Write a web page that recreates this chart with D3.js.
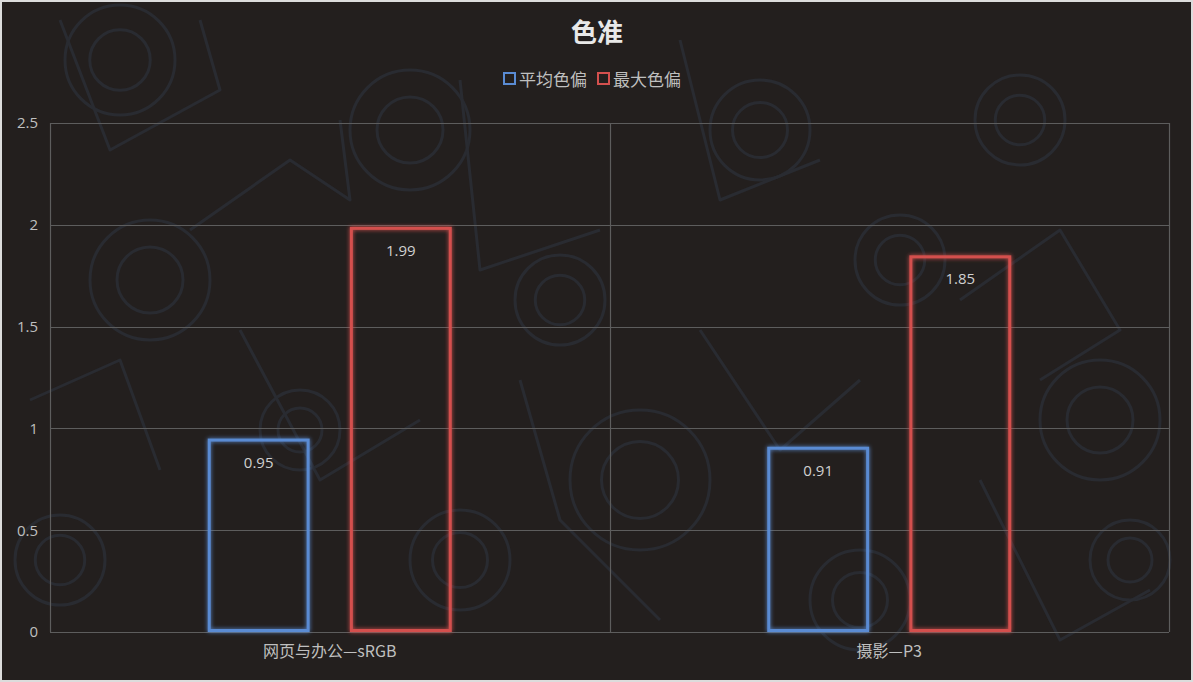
<!DOCTYPE html>
<html><head><meta charset="utf-8">
<script src="https://cdn.jsdelivr.net/npm/d3@7"></script>
<style>
html,body{margin:0;padding:0;background:#e6e6e6;}
svg{display:block;}
</style></head>
<body>
<script>
const categories = ["网页与办公—sRGB", "摄影—P3"];
const seriesNames = ["平均色偏", "最大色偏"];
const avgDelta = [0.95, 0.91];
const maxDelta = [1.99, 1.85];
const yTicks = [0, 0.5, 1, 1.5, 2, 2.5];
const seriesColors = ["#5a8bd3", "#d4504e"];

const W = 1193, H = 682;
const svg = d3.select("body").append("svg").attr("width", W).attr("height", H);

const defs = svg.append("defs");
seriesColors.forEach((c, i) => {
  const f = defs.append("filter").attr("id", "glow" + i).attr("x", "-20%").attr("y", "-20%").attr("width", "140%").attr("height", "140%");
  f.append("feGaussianBlur").attr("in", "SourceGraphic").attr("stdDeviation", 2).attr("result", "b");
  const m = f.append("feMerge");
  m.append("feMergeNode").attr("in", "b");
  m.append("feMergeNode").attr("in", "SourceGraphic");
});

// frame and background
svg.append("rect").attr("x", 0).attr("y", 0).attr("width", W).attr("height", H).attr("fill", "#dcdcdc");
svg.append("rect").attr("x", 2).attr("y", 2).attr("width", W - 4).attr("height", H - 4).attr("fill", "#231f1e");

// faint decorative background pattern
const deco = svg.append("g").attr("fill", "none").attr("stroke", "#292b31").attr("stroke-width", 3);
const circ = [[120,60,55],[410,130,60],[150,280,60],[900,260,45],[640,480,70],[1100,420,60],[460,560,50],[1020,120,45],[300,430,40],[760,130,50],[1130,560,40],[60,560,45],[560,300,45],[860,600,50]];
circ.forEach(c => { deco.append("circle").attr("cx", c[0]).attr("cy", c[1]).attr("r", c[2]); deco.append("circle").attr("cx", c[0]).attr("cy", c[1]).attr("r", c[2]*0.55); });
const polys = ["M60,20 L110,150 L220,90 L200,20","M190,230 L290,160 L350,200 L340,120","M460,80 L480,270 L600,230","M680,40 L720,200 L820,160","M960,300 L1060,230 L1120,330 L1040,380","M240,330 L320,480 L420,420","M700,330 L780,450 L860,380","M30,400 L120,360 L160,470","M980,480 L1060,640 L1150,590","M520,380 L560,520 L660,620"];
polys.forEach(p => deco.append("path").attr("d", p).attr("stroke-linejoin", "round"));

const plot = {l: 50, r: 1169, t: 123, b: 632};
const x0 = d3.scaleBand().domain(categories).range([plot.l, plot.r]).paddingInner(0).paddingOuter(0);
const x1 = d3.scaleBand().domain(seriesNames).range([0, x0.bandwidth()]).paddingInner(0.283).paddingOuter(1.11);
const y = d3.scaleLinear().domain([0, 2.5]).range([plot.b, plot.t]);

const gridColor = "#5d5d5d";
svg.append("g").selectAll("line").data(yTicks).join("line")
  .attr("x1", plot.l).attr("x2", plot.r)
  .attr("y1", d => Math.round(y(d)) + 0.5).attr("y2", d => Math.round(y(d)) + 0.5)
  .attr("stroke", gridColor).attr("stroke-width", 1.2);
const divs = [plot.l, ...categories.map(c => x0(c) + x0.bandwidth())];
svg.append("g").selectAll("line").data(divs).join("line")
  .attr("x1", d => Math.round(d) + 0.5).attr("x2", d => Math.round(d) + 0.5)
  .attr("y1", plot.t).attr("y2", plot.b)
  .attr("stroke", gridColor).attr("stroke-width", 1.2);

const yAxis = d3.axisLeft(y).tickValues(yTicks).tickSize(0).tickPadding(12).tickFormat(d => String(d));
const ya = svg.append("g").attr("transform", `translate(${plot.l},0)`).call(yAxis);
ya.select(".domain").remove();
ya.selectAll("text").attr("fill", "#bfbfbf").attr("font-size", 15).attr("font-family", "'Open Sans', 'Noto Sans', sans-serif");

const xAxis = d3.axisBottom(x0).tickSize(0).tickPadding(14);
const xa = svg.append("g").attr("transform", `translate(0,${plot.b})`).call(xAxis);
xa.select(".domain").remove();
xa.selectAll("text").attr("fill", "#bfbfbf").attr("font-size", 16).attr("font-family", "'Noto Sans CJK SC', sans-serif");

const data = categories.map((c, i) => ({cat: c, vals: [avgDelta[i], maxDelta[i]]}));
const sw = 3;
const groups = svg.append("g").selectAll("g").data(data).join("g").attr("transform", d => `translate(${x0(d.cat)},0)`);
groups.selectAll("rect").data(d => d.vals.map((v, j) => ({v, j}))).join("rect")
  .attr("x", d => x1(seriesNames[d.j]) + sw / 2)
  .attr("y", d => y(d.v) + sw / 2)
  .attr("width", x1.bandwidth() - sw)
  .attr("height", d => y(0) - y(d.v) - sw)
  .attr("fill", "none")
  .attr("stroke", d => seriesColors[d.j])
  .attr("stroke-width", sw)
  .attr("filter", d => `url(#glow${d.j})`);
groups.selectAll("text").data(d => d.vals.map((v, j) => ({v, j}))).join("text")
  .attr("x", d => x1(seriesNames[d.j]) + x1.bandwidth() / 2)
  .attr("y", d => y(d.v) + 29)
  .attr("text-anchor", "middle")
  .attr("fill", "#d0d0d0").attr("font-size", 15)
  .attr("font-family", "'Open Sans', 'Noto Sans', sans-serif")
  .text(d => d.v.toFixed(2));

svg.append("text").attr("x", W / 2 + 0.5).attr("y", 42).attr("text-anchor", "middle")
  .attr("fill", "#e8e8e8").attr("font-size", 26).attr("font-weight", "bold")
  .attr("font-family", "'Noto Sans CJK SC', sans-serif").text("色准");

const leg = svg.append("g").attr("font-family", "'Noto Sans CJK SC', sans-serif").attr("font-size", 17).attr("fill", "#bfbfbf");
const legX = [504, 598];
seriesNames.forEach((n, i) => {
  leg.append("rect").attr("x", legX[i]).attr("y", 73).attr("width", 11).attr("height", 11)
    .attr("fill", "none").attr("stroke", seriesColors[i]).attr("stroke-width", 2);
  leg.append("text").attr("x", legX[i] + 15).attr("y", 86).text(n);
});
</script>
</body></html>
